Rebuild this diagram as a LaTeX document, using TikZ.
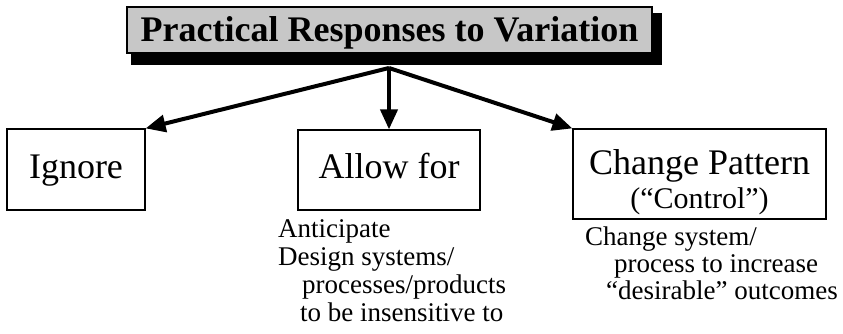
\documentclass[tikz,border=0pt]{standalone}
\usepackage{fontspec}
\setmainfont{Liberation Serif}
\usetikzlibrary{arrows.meta}
\begin{document}
\begin{tikzpicture}[x=1pt,y=-1pt,
  box/.style={draw=black, line width=1.2pt, inner sep=0pt},
  lbl/.style={anchor=base, inner sep=0pt, font=\fontsize{36}{40}\selectfont},
  note/.style={anchor=base west, inner sep=0pt, font=\fontsize{27}{28}\selectfont},
  arr/.style={line width=4pt, -{Triangle[length=20pt,width=17pt]}}]
\useasboundingbox (0,0) rectangle (843,334);
% title with shadow
\fill[black] (131,13) rectangle (662,65);
\node[box, fill=black!22, minimum width=525pt, minimum height=46pt] (title) at (389.5,30) {};
\node[lbl, font=\bfseries\fontsize{36}{40}\selectfont] (titletext) at (389.5,42) {Practical Responses to Variation};
% boxes
\node[box, minimum width=138pt, minimum height=81pt] (ignore) at (76,169.5) {};
\node[lbl] (ignoretext) at (76,178) {Ignore};
\node[box, minimum width=182pt, minimum height=80pt] (allow) at (389,170) {};
\node[lbl] (allowtext) at (389,178) {Allow for};
\node[box, minimum width=253pt, minimum height=90pt] (change) at (699.5,174) {};
\node[lbl] (changetext) at (699.5,175) {Change Pattern};
\node[lbl, font=\fontsize{30}{32}\selectfont] (controltext) at (699.5,208) {(“Control”)};
% arrows
\coordinate (o) at (389,68);
\draw[arr] (o) -- (ignore.north east);
\draw[arr] (o) -- (allow.north);
\draw[arr] (o) -- (change.north west);
% notes
\node[note] (n1) at (278,237) {Anticipate};
\node[note] (n2) at (278,265) {Design systems/};
\node[note] (n3) at (302,293) {processes/products};
\node[note] (n4) at (300,321) {to be insensitive to};
\node[note] (m1) at (585,245) {Change system/};
\node[note] (m2) at (614,272) {process to increase};
\node[note] (m3) at (606,299) {“desirable” outcomes};
\end{tikzpicture}
\end{document}
